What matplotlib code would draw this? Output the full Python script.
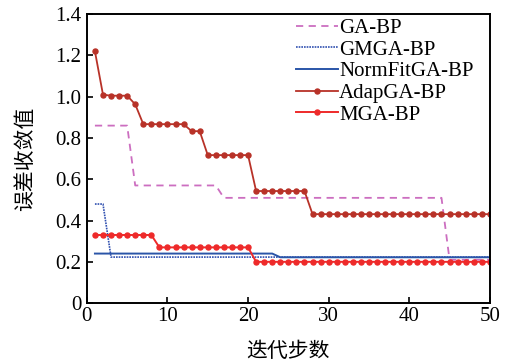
import numpy as np
import matplotlib
matplotlib.use('Agg')
import matplotlib.pyplot as plt

# 迭代步数 1..50
steps = np.arange(1, 51)

# 各算法误差收敛值
ga_bp = [0.86] * 5 + [0.57] * 11 + [0.51] * 28 + [0.21] * 6
gmga_bp = [0.48] * 2 + [0.223] * 48
normfit_bp = [0.24] * 23 + [0.222] * 27
adapga_bp = ([1.22, 1.01, 1.005, 1.005, 1.005, 0.963] + [0.867] * 6
             + [0.833] * 2 + [0.717] * 6 + [0.543] * 7 + [0.431] * 23)
mga_bp = [0.33] * 8 + [0.27] * 12 + [0.2] * 30

yticks = [0, 0.2, 0.4, 0.6, 0.8, 1.0, 1.2, 1.4]
ytick_labels = ['0', '0.2', '0.4', '0.6', '0.8', '1.0', '1.2', '1.4']
xticks = [0, 10, 20, 30, 40, 50]

serif = ['Liberation Serif', 'DejaVu Serif']
cjk = ['Noto Sans CJK SC', 'DejaVu Sans']

fig = plt.figure(figsize=(5.14, 3.63), dpi=100)
ax = fig.add_axes([0.169, 0.165, 0.784, 0.796])

ax.plot(steps, ga_bp, color='#cc6ec0', linestyle=(0, (4, 3)), lw=1.3, label='GA-BP')
ax.plot(steps, gmga_bp, color='#3050b0', linestyle=(0, (1, 0.6)), lw=1.2, label='GMGA-BP')
ax.plot(steps, normfit_bp, color='#2a55a8', lw=1.4, label='NormFitGA-BP')
ax.plot(steps, adapga_bp, color='#b83228', lw=1.3, marker='o', ms=3.6, label='AdapGA-BP')
ax.plot(steps, mga_bp, color='#ee2a2a', lw=1.4, marker='o', ms=3.6, label='MGA-BP')

ax.set_xlim(0, 50)
ax.set_ylim(0, 1.4)
ax.set_xticks(xticks)
ax.set_xticklabels([str(t) for t in xticks], family=serif, fontsize=15)
ax.set_yticks(yticks)
ax.set_yticklabels(ytick_labels, family=serif, fontsize=15)
ax.tick_params(direction='in', length=4, width=1.2)
ax.tick_params(axis='x', pad=3)
ax.tick_params(axis='y', pad=4)
for s in ax.spines.values():
    s.set_linewidth(1.4)

ax.set_xlabel('迭代步数', family=cjk, fontsize=15, labelpad=10)
ax.set_ylabel('误差收敛值', family=cjk, fontsize=15, labelpad=14)

leg = ax.legend(loc='upper left', bbox_to_anchor=(0.52, 0.985), frameon=False,
                borderaxespad=0, borderpad=0, handlelength=2.0, handletextpad=0.05,
                labelspacing=0.1, prop={'family': serif, 'size': 15})

fig.savefig('out.png', dpi=100)
